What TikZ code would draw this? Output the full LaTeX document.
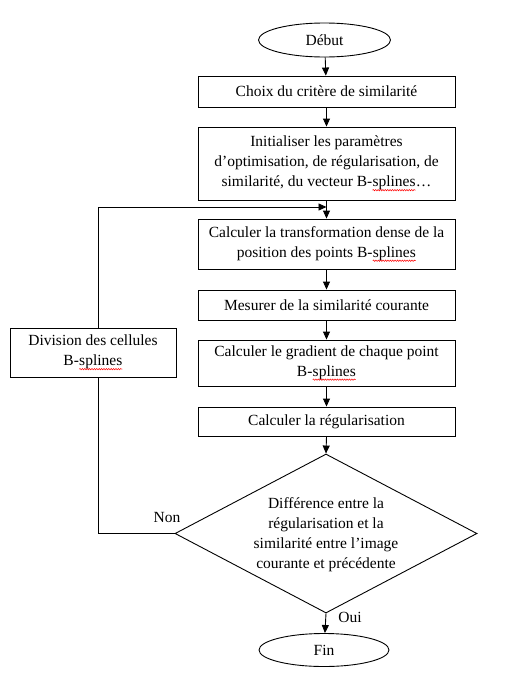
\documentclass[tikz,border=0pt]{standalone}
\usepackage{fontspec}
\setmainfont{Liberation Serif}
\usetikzlibrary{arrows.meta,shapes.geometric,decorations.pathmorphing}
\newcommand\redsq[1]{\tikz[baseline=(w.base)]{\node[shape=rectangle,draw=none,inner sep=0pt,outer sep=0pt,minimum width=0pt,minimum height=0pt] (w) {#1};
  \draw[red,line width=0.5pt,decorate,decoration={snake,amplitude=0.7pt,segment length=2.4pt}] ([yshift=-3.5pt]w.base west) -- ([yshift=-3.5pt]w.base east);}}
\begin{document}
\begin{tikzpicture}[x=1pt,y=-1pt,
  every node/.style={font=\fontsize{15.5}{20}\selectfont},
  line/.style={line width=0.9pt},
  arr/.style={line width=0.9pt,-{Triangle[length=8pt,width=7pt]}},
  stepbox/.style={draw,line width=0.9pt,minimum width=257pt,inner sep=0pt,align=center},
  term/.style={draw,ellipse,line width=0.9pt,minimum width=132pt,minimum height=34pt,inner sep=0pt},
  lbl/.style={inner sep=0pt}]
\useasboundingbox (0,0) rectangle (504,675);
\node[term] (start) at (324.5,40) {Début};
\node[stepbox,minimum height=31pt] (b1) at (326.5,91.5) {Choix du critère de similarité};
\node[stepbox,minimum height=73pt] (b2) at (326.5,163.5) {Initialiser les paramètres\\d’optimisation, de régularisation, de\\similarité, du vecteur B-\redsq{splines}…};
\node[stepbox,minimum height=50pt] (b3) at (326.5,244) {Calculer la transformation dense de la\\position des points B-\redsq{splines}};
\node[stepbox,minimum height=30pt] (b4) at (326.5,305) {Mesurer de la similarité courante};
\node[stepbox,minimum height=46pt] (b5) at (326.5,363) {Calculer le gradient de chaque point\\B-\redsq{splines}};
\node[stepbox,minimum height=29pt] (b6) at (326.5,421.5) {Calculer la régularisation};
\node[draw,diamond,line width=0.9pt,minimum width=302pt,minimum height=159pt,inner sep=0pt] (dia) at (326,533.5) {};
\node[align=center,inner sep=0pt] (diatext) at (326,535) {Différence entre la\\régularisation et la\\similarité entre l’image\\courante et précédente};
\node[term,minimum width=130pt,minimum height=33pt] (fin) at (324,650) {Fin};
\node[draw,line width=0.9pt,minimum width=166pt,minimum height=49pt,inner sep=0pt,align=center] (div) at (93,352.5) {Division des cellules\\B-\redsq{splines}};
\node[lbl] (non) at (167,517) {Non};
\node[lbl] (oui) at (350,617) {Oui};
\coordinate (lb) at (98,533.5);
\coordinate (lt) at (98,207);
\coordinate (jn) at (326.5,207);
\draw[arr] (start) -- (b1);
\draw[arr] (b1) -- (b2);
\draw[arr] (b2) -- (b3);
\draw[arr] (b3) -- (b4);
\draw[arr] (b4) -- (b5);
\draw[arr] (b5) -- (b6);
\draw[arr] (b6.south) -- (dia.north);
\draw[arr] (dia.south) -- (fin);
\draw[line] (dia.west) -- (lb) -- (lb |- div.south);
\draw[arr] (lt |- div.north) -- (lt) -- (jn);
\end{tikzpicture}
\end{document}
